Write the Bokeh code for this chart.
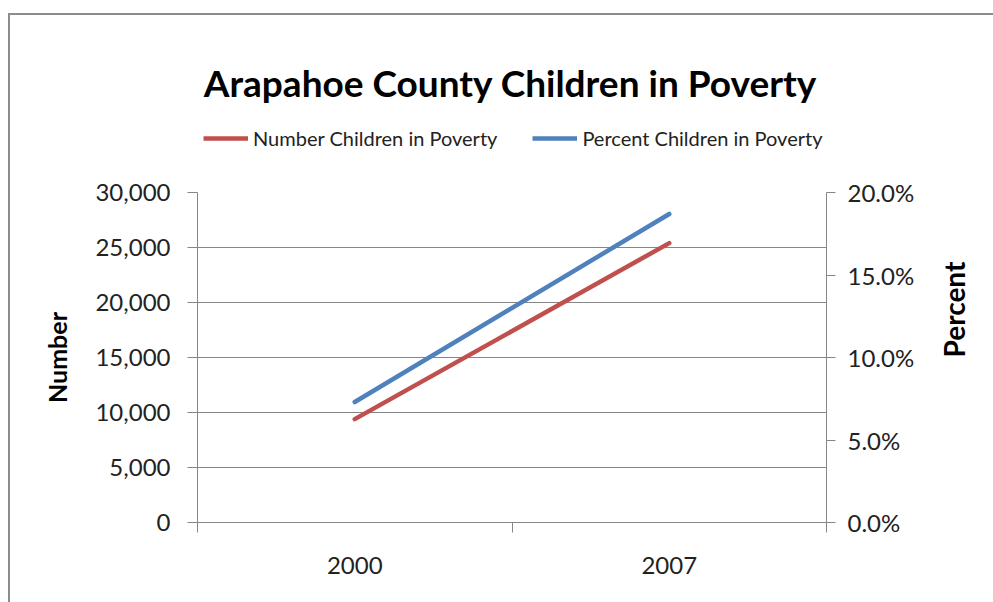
import math

from bokeh.plotting import figure
from bokeh.layouts import column
from bokeh.models import (Range1d, LinearAxis, FixedTicker, PrintfTickFormatter,
                          NumeralTickFormatter, Legend, LegendItem, Grid, Label)
from bokeh.embed import file_html
from bokeh.resources import INLINE

# ---- data -------------------------------------------------------------
years = ["2000", "2007"]
number_children = [9400, 25400]          # children in poverty (count)
percent_children = [7.3, 18.7]           # children in poverty (%)
number_ticks = [0, 5000, 10000, 15000, 20000, 25000, 30000]
percent_ticks = [0, 5, 10, 15, 20]
title_text = "Arapahoe County Children in Poverty"
series_names = ["Number Children in Poverty", "Percent Children in Poverty"]

# ---- layout -----------------------------------------------------------
W = 983                                  # width inside the chart border
HEAD_H = 147                             # title + legend strip
MAIN_H = 440                             # plot area with its axes
FL, FR = 187, 816                        # plot-area left/right edges (px)
TOP_PAD, BOTTOM_PAD = 30, 80
GRAY = "#868686"
BORDER = "2px solid #8c8c8c"
RED = "#C0504D"
BLUE = "#4F81BD"
FONT = "Lato"
TICK_SIZE = "24px"
LEGEND_SIZE = "20px"
LINE_W = 4.5

n = len(years)
# each year sits in the middle of a unit-wide slot
xs = [i + 0.5 for i in range(n)]

# ---- header: title and legend ------------------------------------------
# same side borders as the plot below, so both frames line up; the header's
# ranges are set so that its data units are its own pixels
head = figure(width=W, height=HEAD_H, output_backend="svg",
              toolbar_location=None, x_axis_type=None, y_axis_type=None,
              x_range=Range1d(FL, FR), y_range=Range1d(HEAD_H, TOP_PAD),
              min_border_left=FL, min_border_right=W - FR,
              min_border_top=TOP_PAD, min_border_bottom=0)
head.outline_line_color = None
head.border_fill_color = "white"
head.background_fill_color = "white"

head.add_layout(Label(x=500, y=67, text=title_text,
                      text_align="center", text_baseline="alphabetic",
                      text_font=FONT, text_font_style="bold",
                      text_font_size="37px", text_color="black"))

# legend keys: they carry the series styles only and plot no points
key_num = head.line(x=[math.nan], y=[math.nan], line_color=RED, line_width=LINE_W)
key_pct = head.line(x=[math.nan], y=[math.nan], line_color=BLUE, line_width=LINE_W)
legend = Legend(items=[LegendItem(label=series_names[0], renderers=[key_num]),
                       LegendItem(label=series_names[1], renderers=[key_pct])],
                orientation="horizontal", location=(6, 12),
                glyph_width=45, glyph_height=20,
                label_standoff=5, spacing=35, padding=0, margin=0,
                border_line_color=None, background_fill_alpha=0,
                label_text_font=FONT, label_text_font_size=LEGEND_SIZE,
                label_text_color="#222222")
head.add_layout(legend)

# ---- main plot ---------------------------------------------------------
p = figure(width=W, height=MAIN_H, output_backend="svg", toolbar_location=None,
           x_range=Range1d(0, n), y_range=Range1d(0, number_ticks[-1]),
           x_axis_type=None, y_axis_type=None,
           min_border_left=FL, min_border_right=W - FR,
           min_border_top=TOP_PAD, min_border_bottom=BOTTOM_PAD)
p.extra_y_ranges = {"pct": Range1d(0, percent_ticks[-1])}
p.outline_line_color = None
p.background_fill_color = "white"
p.border_fill_color = "white"

# horizontal gridlines
p.add_layout(Grid(dimension=1, ticker=FixedTicker(ticks=number_ticks),
                  grid_line_color=GRAY, grid_line_width=1))

# category axis: labels in the slot centres, tick marks on slot boundaries
xaxis = LinearAxis(ticker=FixedTicker(ticks=xs, minor_ticks=list(range(n + 1))),
                   major_label_overrides={x: y for x, y in zip(xs, years)})
xaxis.major_tick_out = 0
xaxis.major_tick_in = 0
xaxis.minor_tick_out = 10
xaxis.minor_tick_in = 0
xaxis.minor_tick_line_color = GRAY
xaxis.major_label_standoff = 24
p.add_layout(xaxis, "below")

yaxis = LinearAxis(ticker=FixedTicker(ticks=number_ticks),
                   formatter=NumeralTickFormatter(format="0,0"),
                   axis_label="Number")
yaxis.major_tick_out = 10
yaxis.major_tick_in = 0
yaxis.major_label_standoff = 17
yaxis.axis_label_standoff = 20
yaxis.axis_label_text_font_size = "25px"
p.add_layout(yaxis, "left")

raxis = LinearAxis(y_range_name="pct", ticker=FixedTicker(ticks=percent_ticks),
                   formatter=PrintfTickFormatter(format="%.1f%%"))
raxis.major_tick_out = 9
raxis.major_tick_in = 0
raxis.major_label_standoff = 12
p.add_layout(raxis, "right")

# caption-only axis for the percent scale; a rotated caption starts at the
# middle of its rule, so the rule is shortened to centre the word
rcap = LinearAxis(y_range_name="pct", ticker=FixedTicker(ticks=[]),
                  bounds=(0, 14.8), axis_label="Percent")
rcap.axis_line_color = None
rcap.major_tick_out = 0
rcap.major_tick_in = 0
rcap.minor_tick_out = 0
rcap.minor_tick_in = 0
rcap.major_label_standoff = 0
rcap.axis_label_standoff = 36
rcap.axis_label_orientation = math.pi / 2
rcap.axis_label_text_font_size = "28px"
p.add_layout(rcap, "right")

for ax in (xaxis, yaxis, raxis):
    ax.axis_line_color = GRAY
    ax.axis_line_width = 1
    ax.major_tick_line_color = GRAY
for ax in (xaxis, yaxis, raxis, rcap):
    ax.major_label_text_font = FONT
    ax.major_label_text_font_size = TICK_SIZE
    ax.major_label_text_color = "#222222"
    ax.axis_label_text_font = FONT
    ax.axis_label_text_font_style = "bold"
    ax.axis_label_text_color = "black"

# ---- series -----------------------------------------------------------
p.line(xs, number_children, line_color=RED, line_width=LINE_W, line_cap="round")
p.line(xs, percent_children, y_range_name="pct", line_color=BLUE,
       line_width=LINE_W, line_cap="round")

# chart border on the left and top edges
chart = column(head, p, spacing=0,
               styles={"margin-left": "8px", "margin-top": "13px",
                       "border-left": BORDER, "border-top": BORDER})

open("out.html", "w").write(file_html(chart, INLINE))
